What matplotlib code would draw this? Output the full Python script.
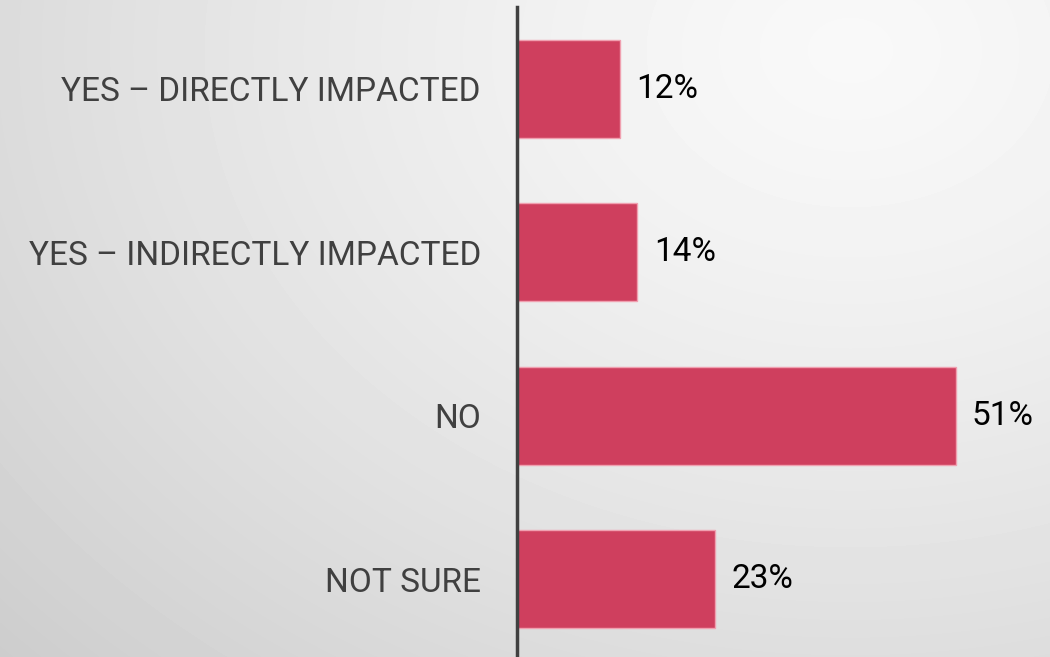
import numpy as np
import matplotlib.pyplot as plt

categories = ['YES – DIRECTLY IMPACTED', 'YES – INDIRECTLY IMPACTED', 'NO', 'NOT SURE']
values = [12, 14, 51, 23]
value_labels = ['12%', '14%', '51%', '23%']

plt.rcParams['font.family'] = ['Roboto', 'DejaVu Sans']

fig = plt.figure(figsize=(10.5, 6.57), dpi=100)

# soft grey background, lightest near the top right
bg = fig.add_axes([0, 0, 1, 1])
yy, xx = np.mgrid[0:657, 0:1050]
d = np.sqrt((xx - 850.0) ** 2 + (1.3 * (yy - 50.0)) ** 2)
shade = np.clip(0.975 - 0.115 * (d / 850.0) ** 1.3, 0, 1)
bg.imshow(shade, cmap='gray', vmin=0, vmax=1, aspect='auto',
          extent=[0, 1, 0, 1], origin='upper', interpolation='bilinear')
bg.axis('off')

ax = fig.add_axes([517 / 1050, -3.7 / 657, 516 / 1050, 653.4 / 657])
ax.set_facecolor('none')
pos = np.arange(len(categories))
ax.barh(pos, values, height=0.6, color='#cf3f5e', edgecolor='#f0a0b0', linewidth=1)
ax.set_ylim(len(categories) - 0.5, -0.5)
ax.set_xlim(0, 60)
ax.set_yticks(pos)
ax.set_yticklabels(categories, fontsize=24, color='#404040')
ax.tick_params(axis='y', length=0, pad=26)
ax.set_xticks([])
for s in ['top', 'right', 'bottom']:
    ax.spines[s].set_visible(False)
ax.spines['left'].set_color('#404040')
ax.spines['left'].set_linewidth(2.5)

for p, v, lab in zip(pos, values, value_labels):
    ax.text(v + 1.9, p, lab, va='center', ha='left', fontsize=24,
            color='black', clip_on=False)

fig.savefig('out.png', dpi=100)
